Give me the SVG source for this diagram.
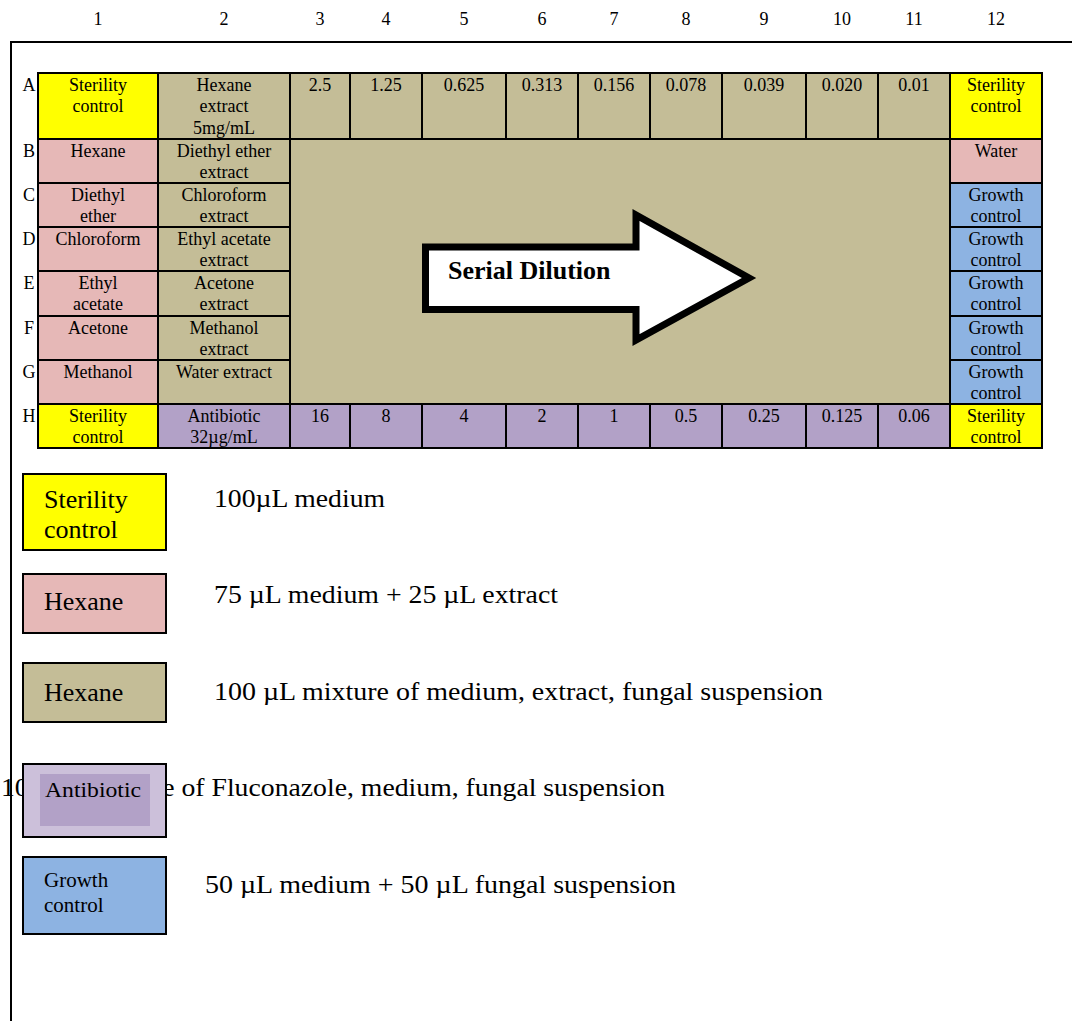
<svg xmlns="http://www.w3.org/2000/svg" width="1072" height="1021" viewBox="0 0 1072 1021">
  <style>
    .cell { stroke: #000; stroke-width: 2; }
    .ster { fill: #FFFF00; }
    .solv { fill: #E6B8B7; }
    .extr { fill: #C4BD97; }
    .anti { fill: #B2A1C7; }
    .grow { fill: #8DB3E2; }
    text { font-family: "Liberation Serif", "Times New Roman", serif; fill: #000; }
    .t { font-size: 18px; text-anchor: middle; }
    .hdr { font-size: 18px; text-anchor: middle; }
    .lbl { font-size: 26px; }
    .desc { font-size: 26px; }
  </style>

  <!-- page frame -->
  <path id="frame" d="M11,1021 V42 H1072" fill="none" stroke="#000" stroke-width="2"/>

  <!-- column numbers -->
  <g id="col-headers" class="hdr">
    <text x="98" y="25">1</text>
    <text x="224" y="25">2</text>
    <text x="320" y="25">3</text>
    <text x="386" y="25">4</text>
    <text x="464" y="25">5</text>
    <text x="542" y="25">6</text>
    <text x="614" y="25">7</text>
    <text x="686" y="25">8</text>
    <text x="764" y="25">9</text>
    <text x="842" y="25">10</text>
    <text x="914" y="25">11</text>
    <text x="996" y="25">12</text>
  </g>

  <!-- row letters -->
  <g id="row-headers" class="hdr">
    <text x="29" y="90.5">A</text>
    <text x="29" y="156.5">B</text>
    <text x="29" y="200.5">C</text>
    <text x="29" y="244.5">D</text>
    <text x="29" y="288.5">E</text>
    <text x="29" y="333.5">F</text>
    <text x="29" y="377.5">G</text>
    <text x="29" y="421.5">H</text>
  </g>

  <!-- row A -->
  <g id="A1"><rect class="cell ster" x="38" y="73" width="120" height="66"/><text class="t" x="98" y="90.5">Sterility</text><text class="t" x="98" y="112">control</text></g>
  <g id="A2"><rect class="cell extr" x="158" y="73" width="132" height="66"/><text class="t" x="224" y="90.5">Hexane</text><text class="t" x="224" y="112">extract</text><text class="t" x="224" y="133.5">5mg/mL</text></g>
  <g id="A3"><rect class="cell extr" x="290" y="73" width="60" height="66"/><text class="t" x="320" y="90.5">2.5</text></g>
  <g id="A4"><rect class="cell extr" x="350" y="73" width="72" height="66"/><text class="t" x="386" y="90.5">1.25</text></g>
  <g id="A5"><rect class="cell extr" x="422" y="73" width="84" height="66"/><text class="t" x="464" y="90.5">0.625</text></g>
  <g id="A6"><rect class="cell extr" x="506" y="73" width="72" height="66"/><text class="t" x="542" y="90.5">0.313</text></g>
  <g id="A7"><rect class="cell extr" x="578" y="73" width="72" height="66"/><text class="t" x="614" y="90.5">0.156</text></g>
  <g id="A8"><rect class="cell extr" x="650" y="73" width="72" height="66"/><text class="t" x="686" y="90.5">0.078</text></g>
  <g id="A9"><rect class="cell extr" x="722" y="73" width="84" height="66"/><text class="t" x="764" y="90.5">0.039</text></g>
  <g id="A10"><rect class="cell extr" x="806" y="73" width="72" height="66"/><text class="t" x="842" y="90.5">0.020</text></g>
  <g id="A11"><rect class="cell extr" x="878" y="73" width="72" height="66"/><text class="t" x="914" y="90.5">0.01</text></g>
  <g id="A12"><rect class="cell ster" x="950" y="73" width="92" height="66"/><text class="t" x="996" y="90.5">Sterility</text><text class="t" x="996" y="112">control</text></g>

  <!-- rows B to G, columns 1 and 2 -->
  <g id="B1"><rect class="cell solv" x="38" y="139" width="120" height="44"/><text class="t" x="98" y="156.5">Hexane</text></g>
  <g id="B2"><rect class="cell extr" x="158" y="139" width="132" height="44"/><text class="t" x="224" y="156.5">Diethyl ether</text><text class="t" x="224" y="178">extract</text></g>
  <g id="C1"><rect class="cell solv" x="38" y="183" width="120" height="44"/><text class="t" x="98" y="200.5">Diethyl</text><text class="t" x="98" y="222">ether</text></g>
  <g id="C2"><rect class="cell extr" x="158" y="183" width="132" height="44"/><text class="t" x="224" y="200.5">Chloroform</text><text class="t" x="224" y="222">extract</text></g>
  <g id="D1"><rect class="cell solv" x="38" y="227" width="120" height="44"/><text class="t" x="98" y="244.5">Chloroform</text></g>
  <g id="D2"><rect class="cell extr" x="158" y="227" width="132" height="44"/><text class="t" x="224" y="244.5">Ethyl acetate</text><text class="t" x="224" y="266">extract</text></g>
  <g id="E1"><rect class="cell solv" x="38" y="271" width="120" height="45"/><text class="t" x="98" y="288.5">Ethyl</text><text class="t" x="98" y="310">acetate</text></g>
  <g id="E2"><rect class="cell extr" x="158" y="271" width="132" height="45"/><text class="t" x="224" y="288.5">Acetone</text><text class="t" x="224" y="310">extract</text></g>
  <g id="F1"><rect class="cell solv" x="38" y="316" width="120" height="44"/><text class="t" x="98" y="333.5">Acetone</text></g>
  <g id="F2"><rect class="cell extr" x="158" y="316" width="132" height="44"/><text class="t" x="224" y="333.5">Methanol</text><text class="t" x="224" y="355">extract</text></g>
  <g id="G1"><rect class="cell solv" x="38" y="360" width="120" height="44"/><text class="t" x="98" y="377.5">Methanol</text></g>
  <g id="G2"><rect class="cell extr" x="158" y="360" width="132" height="44"/><text class="t" x="224" y="377.5">Water extract</text></g>

  <!-- merged dilution area, rows B-G, columns 3-11 -->
  <g id="dilution-area"><rect class="cell extr" x="290" y="139" width="660" height="265"/></g>

  <!-- rows B to G, column 12 -->
  <g id="B12"><rect class="cell solv" x="950" y="139" width="92" height="44"/><text class="t" x="996" y="156.5">Water</text></g>
  <g id="C12"><rect class="cell grow" x="950" y="183" width="92" height="44"/><text class="t" x="996" y="200.5">Growth</text><text class="t" x="996" y="222">control</text></g>
  <g id="D12"><rect class="cell grow" x="950" y="227" width="92" height="44"/><text class="t" x="996" y="244.5">Growth</text><text class="t" x="996" y="266">control</text></g>
  <g id="E12"><rect class="cell grow" x="950" y="271" width="92" height="45"/><text class="t" x="996" y="288.5">Growth</text><text class="t" x="996" y="310">control</text></g>
  <g id="F12"><rect class="cell grow" x="950" y="316" width="92" height="44"/><text class="t" x="996" y="333.5">Growth</text><text class="t" x="996" y="355">control</text></g>
  <g id="G12"><rect class="cell grow" x="950" y="360" width="92" height="44"/><text class="t" x="996" y="377.5">Growth</text><text class="t" x="996" y="399">control</text></g>

  <!-- row H -->
  <g id="H1"><rect class="cell ster" x="38" y="404" width="120" height="44"/><text class="t" x="98" y="421.5">Sterility</text><text class="t" x="98" y="443">control</text></g>
  <g id="H2"><rect class="cell anti" x="158" y="404" width="132" height="44"/><text class="t" x="224" y="421.5">Antibiotic</text><text class="t" x="224" y="443">32µg/mL</text></g>
  <g id="H3"><rect class="cell anti" x="290" y="404" width="60" height="44"/><text class="t" x="320" y="421.5">16</text></g>
  <g id="H4"><rect class="cell anti" x="350" y="404" width="72" height="44"/><text class="t" x="386" y="421.5">8</text></g>
  <g id="H5"><rect class="cell anti" x="422" y="404" width="84" height="44"/><text class="t" x="464" y="421.5">4</text></g>
  <g id="H6"><rect class="cell anti" x="506" y="404" width="72" height="44"/><text class="t" x="542" y="421.5">2</text></g>
  <g id="H7"><rect class="cell anti" x="578" y="404" width="72" height="44"/><text class="t" x="614" y="421.5">1</text></g>
  <g id="H8"><rect class="cell anti" x="650" y="404" width="72" height="44"/><text class="t" x="686" y="421.5">0.5</text></g>
  <g id="H9"><rect class="cell anti" x="722" y="404" width="84" height="44"/><text class="t" x="764" y="421.5">0.25</text></g>
  <g id="H10"><rect class="cell anti" x="806" y="404" width="72" height="44"/><text class="t" x="842" y="421.5">0.125</text></g>
  <g id="H11"><rect class="cell anti" x="878" y="404" width="72" height="44"/><text class="t" x="914" y="421.5">0.06</text></g>
  <g id="H12"><rect class="cell ster" x="950" y="404" width="92" height="44"/><text class="t" x="996" y="421.5">Sterility</text><text class="t" x="996" y="443">control</text></g>

  <!-- serial dilution block arrow -->
  <g id="serial-dilution-arrow">
    <polygon points="425.5,247 636,247 636,215 749,278 636,340 636,309.5 425.5,309.5" fill="#fff" stroke="#000" stroke-width="7" stroke-linejoin="miter" stroke-miterlimit="10"/>
    <text x="448" y="279" font-size="26" font-weight="bold">Serial Dilution</text>
  </g>

  <!-- legend -->
  <g id="legend-sterility">
    <rect class="cell ster" x="23" y="474" width="143" height="76"/>
    <text class="lbl" x="44" y="508">Sterility</text>
    <text class="lbl" x="44" y="538">control</text>
    <text class="desc" x="214" y="507" textLength="171" lengthAdjust="spacingAndGlyphs">100µL medium</text>
  </g>
  <g id="legend-solvent">
    <rect class="cell solv" x="23" y="574" width="143" height="59"/>
    <text class="lbl" x="44" y="610">Hexane</text>
    <text class="desc" x="214" y="603" textLength="344" lengthAdjust="spacingAndGlyphs">75 µL medium + 25 µL extract</text>
  </g>
  <g id="legend-extract">
    <rect class="cell extr" x="23" y="663" width="143" height="59"/>
    <text class="lbl" x="44" y="701">Hexane</text>
    <text class="desc" x="214" y="700" textLength="609" lengthAdjust="spacingAndGlyphs">100 µL mixture of medium, extract, fungal suspension</text>
  </g>
  <g id="legend-antibiotic">
    <text class="desc" x="1" y="796" textLength="664" lengthAdjust="spacingAndGlyphs">100 µL mixture of Fluconazole, medium, fungal suspension</text>
    <rect class="cell" x="23" y="764" width="143" height="73" fill="#CCC0DA"/>
    <rect x="40" y="774" width="110" height="52" fill="#B2A1C7"/>
    <text x="45" y="797" font-size="22" textLength="96" lengthAdjust="spacingAndGlyphs">Antibiotic</text>
  </g>
  <g id="legend-growth">
    <rect class="cell grow" x="23" y="857" width="143" height="77"/>
    <text x="44" y="887" font-size="21">Growth</text>
    <text x="44" y="912" font-size="21">control</text>
    <text class="desc" x="205" y="893" textLength="471" lengthAdjust="spacingAndGlyphs">50 µL medium + 50 µL fungal suspension</text>
  </g>
</svg>
